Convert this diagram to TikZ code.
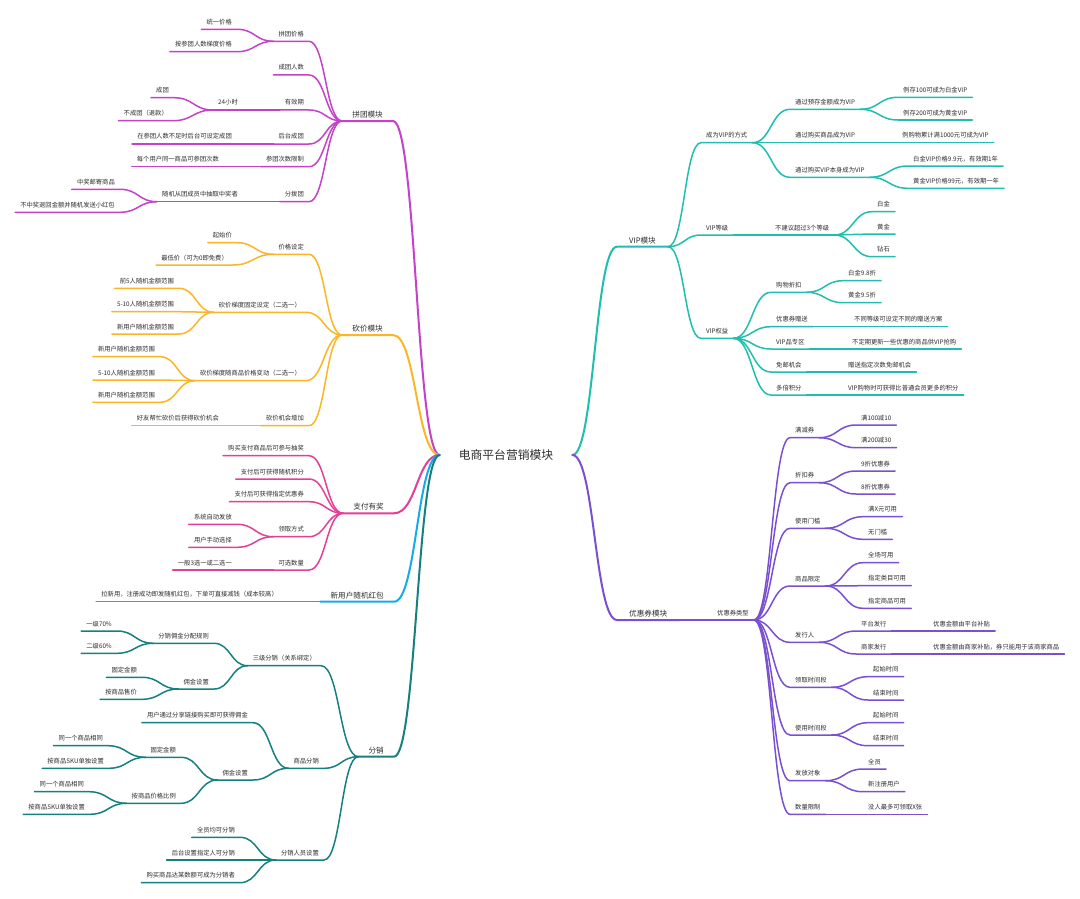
\documentclass[tikz,border=0pt]{standalone}
\usepackage{fontspec}
\setmainfont{Noto Sans CJK SC}
\usetikzlibrary{calc}
\definecolor{colA}{RGB}{195,66,200}
\definecolor{colB}{RGB}{251,182,40}
\definecolor{colC}{RGB}{226,64,150}
\definecolor{colD}{RGB}{22,170,232}
\definecolor{colE}{RGB}{22,128,128}
\definecolor{colF}{RGB}{32,190,175}
\definecolor{colG}{RGB}{122,80,208}
\definecolor{txt}{RGB}{45,45,45}
\newcommand\fsS{\fontsize{6.3pt}{7.5pt}\selectfont}
\newcommand\fsM{\fontsize{7.6pt}{9pt}\selectfont}
\newcommand\fsL{\fontsize{11.8pt}{14pt}\selectfont}
\newcommand\lnk[3]{\draw[#1] let \p1=(#2.south east), \p2=(#3) in (#2.south west) -- (\p1) .. controls ({0.5*\x1+0.5*\x2},\y1) and ({0.5*\x1+0.5*\x2},\y2) .. (\p2);}
\newcommand\rnk[3]{\draw[#1] let \p1=(#2), \p2=(#3.south west) in (\p1) .. controls ({0.5*\x1+0.5*\x2},\y1) and ({0.5*\x1+0.5*\x2},\y2) .. (\p2) -- (#3.south east);}
\tikzset{
  nbase/.style={inner ysep=4.3pt, text depth=0.5pt, text=txt},
  ln/.style={nbase, anchor=south east, inner xsep=5pt, xshift=5pt, font=\fsS},
  rn/.style={nbase, anchor=south west, inner xsep=5pt, xshift=-5pt, font=\fsS},
  lm/.style={nbase, inner ysep=3pt, anchor=south east, inner xsep=10pt, xshift=10pt, font=\fsM},
  rm/.style={nbase, inner ysep=3pt, anchor=south west, inner xsep=12pt, xshift=-12pt, font=\fsM},
  lk/.style={line width=1.5pt, line cap=round, line join=round},
  lkr/.style={line width=2pt, line cap=round, line join=round},
  kA/.style={lk, draw=colA}, kAr/.style={lkr, draw=colA},
  kB/.style={lk, draw=colB}, kBr/.style={lkr, draw=colB},
  kC/.style={lk, draw=colC}, kCr/.style={lkr, draw=colC},
  kD/.style={lk, draw=colD}, kDr/.style={lkr, draw=colD},
  kE/.style={lk, draw=colE}, kEr/.style={lkr, draw=colE},
  kF/.style={lk, draw=colF}, kFr/.style={lkr, draw=colF},
  kG/.style={lk, draw=colG}, kGr/.style={lkr, draw=colG},
}
\begin{document}
\begin{tikzpicture}[x=1pt, y=-1pt]
\useasboundingbox[fill=white] (0,0) rectangle (1080,899);
\node[font=\fsL, text=txt, inner xsep=19pt, inner ysep=2pt] (root) at (506,455) {电商平台营销模块};

% ===== 拼团模块 =====
\node[lm] (A) at (383,121) {拼团模块};
\node[ln] (A1) at (304,41.3) {拼团价格};
\node[ln] (A11) at (232,29.3) {统一价格};
\node[ln] (A12) at (232,51.7) {按参团人数梯度价格};
\node[ln] (A2) at (304,75) {成团人数};
\node[ln] (A3) at (304,110) {有效期};
\node[ln] (A31) at (238,110) {24小时};
\node[ln] (A311) at (169,97.7) {成团};
\node[ln] (A312) at (168,120.7) {不成团（退款）};
\node[ln] (A4) at (304,144) {后台成团};
\node[ln] (A41) at (232,144) {在参团人数不足时后台可设定成团};
\node[ln] (A5) at (304,166.7) {参团次数限制};
\node[ln] (A51) at (219,166.7) {每个用户同一商品可参团次数};
\node[ln] (A6) at (304,201.7) {分拨团};
\node[ln] (A61) at (238,201.7) {随机从团成员中抽取中奖者};
\node[ln] (A611) at (115,189.3) {中奖邮寄商品};
\node[ln] (A612) at (115,212.3) {不中奖退回金额并随机发送小红包};
\lnk{kA}{A11}{A1.south west}
\lnk{kA}{A12}{A1.south west}
\lnk{kA}{A311}{A31.south west}
\lnk{kA}{A312}{A31.south west}
\lnk{kA}{A31}{A3.south west}
\lnk{kA}{A41}{A4.south west}
\lnk{kA}{A51}{A5.south west}
\lnk{kA}{A611}{A61.south west}
\lnk{kA}{A612}{A61.south west}
\lnk{kA}{A61}{A6.south west}
\lnk{kA}{A1}{A.south west}
\lnk{kA}{A2}{A.south west}
\lnk{kA}{A3}{A.south west}
\lnk{kA}{A4}{A.south west}
\lnk{kA}{A5}{A.south west}
\lnk{kA}{A6}{A.south west}
\lnk{kAr}{A}{root.west}

% ===== 砍价模块 =====
\node[lm] (B) at (383,335) {砍价模块};
\node[ln] (B1) at (304,254.3) {价格设定};
\node[ln] (B11) at (232,242.7) {起始价};
\node[ln] (B12) at (228,265) {最低价（可为0即免费）};
\node[ln] (B2) at (301,312.3) {砍价梯度固定设定（二选一）};
\node[ln] (B21) at (174,288.3) {前5人随机金额范围};
\node[ln] (B22) at (174,311.7) {5-10人随机金额范围};
\node[ln] (B23) at (174,334) {新用户随机金额范围};
\node[ln] (B3) at (301,380.7) {砍价梯度随商品价格变动（二选一）};
\node[ln] (B31) at (155,356.7) {新用户随机金额范围};
\node[ln] (B32) at (155,380) {5-10人随机金额范围};
\node[ln] (B33) at (155,402.3) {新用户随机金额范围};
\node[ln] (B4) at (304,425.7) {砍价机会增加};
\node[ln] (B41) at (219,425.7) {好友帮忙砍价后获得砍价机会};
\lnk{kB}{B11}{B1.south west}
\lnk{kB}{B12}{B1.south west}
\lnk{kB}{B21}{B2.south west}
\lnk{kB}{B22}{B2.south west}
\lnk{kB}{B23}{B2.south west}
\lnk{kB}{B31}{B3.south west}
\lnk{kB}{B32}{B3.south west}
\lnk{kB}{B33}{B3.south west}
\lnk{kB}{B41}{B4.south west}
\lnk{kB}{B1}{B.south west}
\lnk{kB}{B2}{B.south west}
\lnk{kB}{B3}{B.south west}
\lnk{kB}{B4}{B.south west}
\lnk{kBr}{B}{root.west}

% ===== 支付有奖 =====
\node[lm] (C) at (384,513.3) {支付有奖};
\node[ln] (C1) at (304,455.7) {购买支付商品后可参与抽奖};
\node[ln] (C2) at (304,479) {支付后可获得随机积分};
\node[ln] (C3) at (304,501.7) {支付后可获得指定优惠券};
\node[ln] (C4) at (304,536.7) {领取方式};
\node[ln] (C41) at (232,524.3) {系统自动发放};
\node[ln] (C42) at (232,547.3) {用户手动选择};
\node[ln] (C5) at (304,570) {可选数量};
\node[ln] (C51) at (232,570) {一般3选一或二选一};
\lnk{kC}{C41}{C4.south west}
\lnk{kC}{C42}{C4.south west}
\lnk{kC}{C51}{C5.south west}
\lnk{kC}{C1}{C.south west}
\lnk{kC}{C2}{C.south west}
\lnk{kC}{C3}{C.south west}
\lnk{kC}{C4}{C.south west}
\lnk{kC}{C5}{C.south west}
\lnk{kCr}{C}{root.west}

% ===== 新用户随机红包 =====
\node[lm] (D) at (384,601.7) {新用户随机红包};
\node[ln] (D1) at (278,601.7) {拉新用，注册成功即发随机红包，下单可直接减钱（成本较高）};
\lnk{kD}{D1}{D.south west}
\lnk{kDr}{D}{root.west}

% ===== 分销 =====
\node[lm] (E) at (384,756.7) {分销};
\node[ln] (E1) at (316,665.7) {三级分销（关系绑定）};
\node[ln] (E11) at (209,643.3) {分销佣金分配规则};
\node[ln] (E111) at (112,631) {一级70\%};
\node[ln] (E112) at (112,653.3) {二级60\%};
\node[ln] (E12) at (209,689) {佣金设置};
\node[ln] (E121) at (137,677.3) {固定金额};
\node[ln] (E122) at (137,699.3) {按商品售价};
\node[ln] (E2) at (319,768.3) {商品分销};
\node[ln] (E21) at (248,722.7) {用户通过分享链接购买即可获得佣金};
\node[ln] (E22) at (248,780) {佣金设置};
\node[ln] (E221) at (176,757.3) {固定金额};
\node[ln] (E2211) at (103,745.7) {同一个商品相同};
\node[ln] (E2212) at (104,768.3) {按商品SKU单独设置};
\node[ln] (E222) at (176,803.3) {按商品价格比例};
\node[ln] (E2221) at (84,791.7) {同一个商品相同};
\node[ln] (E2222) at (85,814.3) {按商品SKU单独设置};
\node[ln] (E3) at (319,860) {分销人员设置};
\node[ln] (E31) at (235,837.3) {全员均可分销};
\node[ln] (E32) at (235,860) {后台设置指定人可分销};
\node[ln] (E33) at (235,882.7) {购买商品达某数额可成为分销者};
\lnk{kE}{E111}{E11.south west}
\lnk{kE}{E112}{E11.south west}
\lnk{kE}{E121}{E12.south west}
\lnk{kE}{E122}{E12.south west}
\lnk{kE}{E11}{E1.south west}
\lnk{kE}{E12}{E1.south west}
\lnk{kE}{E2211}{E221.south west}
\lnk{kE}{E2212}{E221.south west}
\lnk{kE}{E2221}{E222.south west}
\lnk{kE}{E2222}{E222.south west}
\lnk{kE}{E221}{E22.south west}
\lnk{kE}{E222}{E22.south west}
\lnk{kE}{E21}{E2.south west}
\lnk{kE}{E22}{E2.south west}
\lnk{kE}{E31}{E3.south west}
\lnk{kE}{E32}{E3.south west}
\lnk{kE}{E33}{E3.south west}
\lnk{kE}{E1}{E.south west}
\lnk{kE}{E2}{E.south west}
\lnk{kE}{E3}{E.south west}
\lnk{kEr}{E}{root.west}

% ===== VIP模块 =====
\node[rm] (F) at (629,246.7) {VIP模块};
\node[rn] (F1) at (706,142.7) {成为VIP的方式};
\node[rn] (F11) at (795,109.3) {通过预存金额成为VIP};
\node[rn] (F111) at (903,97.3) {例存100可成为白金VIP};
\node[rn] (F112) at (903,120) {例存200可成为黄金VIP};
\node[rn] (F12) at (795,142.7) {通过购买商品成为VIP};
\node[rn] (F121) at (902,142.7) {例购物累计满1000元可成为VIP};
\node[rn] (F13) at (795,177.3) {通过购买VIP本身成为VIP};
\node[rn] (F131) at (913,166) {白金VIP价格9.9元，有效期1年};
\node[rn] (F132) at (913,188.3) {黄金VIP价格99元，有效期一年};
\node[rn] (F2) at (706,235) {VIP等级};
\node[rn] (F21) at (775,235) {不建议超过3个等级};
\node[rn] (F211) at (877,211.7) {白金};
\node[rn] (F212) at (877,234) {黄金};
\node[rn] (F213) at (877,256.7) {钻石};
\node[rn] (F3) at (706,338.3) {VIP权益};
\node[rn] (F31) at (776,292.3) {购物折扣};
\node[rn] (F311) at (848,280.7) {白金9.8折};
\node[rn] (F312) at (848,302.7) {黄金9.5折};
\node[rn] (F32) at (776,326.7) {优惠券赠送};
\node[rn] (F321) at (854,326.7) {不同等级可设定不同的赠送方案};
\node[rn] (F33) at (776,349) {VIP品专区};
\node[rn] (F331) at (852,349) {不定期更新一些优惠的商品供VIP抢购};
\node[rn] (F34) at (776,372) {免邮机会};
\node[rn] (F341) at (848,372) {赠送指定次数免邮机会};
\node[rn] (F35) at (776,395) {多倍积分};
\node[rn] (F351) at (848,395) {VIP购物时可获得比普通会员更多的积分};
\rnk{kFr}{root.east}{F}
\rnk{kF}{F.south east}{F1}
\rnk{kF}{F.south east}{F2}
\rnk{kF}{F.south east}{F3}
\rnk{kF}{F1.south east}{F11}
\rnk{kF}{F1.south east}{F12}
\rnk{kF}{F1.south east}{F13}
\rnk{kF}{F11.south east}{F111}
\rnk{kF}{F11.south east}{F112}
\rnk{kF}{F12.south east}{F121}
\rnk{kF}{F13.south east}{F131}
\rnk{kF}{F13.south east}{F132}
\rnk{kF}{F2.south east}{F21}
\rnk{kF}{F21.south east}{F211}
\rnk{kF}{F21.south east}{F212}
\rnk{kF}{F21.south east}{F213}
\rnk{kF}{F3.south east}{F31}
\rnk{kF}{F3.south east}{F32}
\rnk{kF}{F3.south east}{F33}
\rnk{kF}{F3.south east}{F34}
\rnk{kF}{F3.south east}{F35}
\rnk{kF}{F31.south east}{F311}
\rnk{kF}{F31.south east}{F312}
\rnk{kF}{F32.south east}{F321}
\rnk{kF}{F33.south east}{F331}
\rnk{kF}{F34.south east}{F341}
\rnk{kF}{F35.south east}{F351}

% ===== 优惠券模块 =====
\node[rm] (G) at (629,620) {优惠券模块};
\node[rn] (G1) at (717,620) {优惠券类型};
\node[rn] (G11) at (795,437.7) {满减券};
\node[rn] (G111) at (861,425) {满100减10};
\node[rn] (G112) at (861,447.7) {满200减30};
\node[rn] (G12) at (795,482.7) {折扣券};
\node[rn] (G121) at (861,471) {9折优惠券};
\node[rn] (G122) at (861,494) {8折优惠券};
\node[rn] (G13) at (795,528.3) {使用门槛};
\node[rn] (G131) at (868,516.7) {满X元可用};
\node[rn] (G132) at (868,539.3) {无门槛};
\node[rn] (G14) at (795,586) {商品限定};
\node[rn] (G141) at (868,562.7) {全场可用};
\node[rn] (G142) at (868,585.7) {指定类目可用};
\node[rn] (G143) at (868,608.3) {指定商品可用};
\node[rn] (G15) at (795,642.3) {发行人};
\node[rn] (G151) at (861,631) {平台发行};
\node[rn] (G1511) at (933,631) {优惠金额由平台补贴};
\node[rn] (G152) at (861,654) {商家发行};
\node[rn] (G1521) at (933,654) {优惠金额由商家补贴，券只能用于该商家商品};
\node[rn] (G16) at (795,687.3) {领取时间段};
\node[rn] (G161) at (873,676.7) {起始时间};
\node[rn] (G162) at (873,700) {结束时间};
\node[rn] (G17) at (795,735) {使用时间段};
\node[rn] (G171) at (873,722.7) {起始时间};
\node[rn] (G172) at (873,745.7) {结束时间};
\node[rn] (G18) at (795,780.7) {发放对象};
\node[rn] (G181) at (868,769) {全员};
\node[rn] (G182) at (868,791.7) {新注册用户};
\node[rn] (G19) at (795,814.3) {数量限制};
\node[rn] (G191) at (868,814.3) {没人最多可领取X张};
\rnk{kGr}{root.east}{G}
\rnk{kG}{G.south east}{G1}
\rnk{kG}{G1.south east}{G11}
\rnk{kG}{G1.south east}{G12}
\rnk{kG}{G1.south east}{G13}
\rnk{kG}{G1.south east}{G14}
\rnk{kG}{G1.south east}{G15}
\rnk{kG}{G1.south east}{G16}
\rnk{kG}{G1.south east}{G17}
\rnk{kG}{G1.south east}{G18}
\rnk{kG}{G1.south east}{G19}
\rnk{kG}{G11.south east}{G111}
\rnk{kG}{G11.south east}{G112}
\rnk{kG}{G12.south east}{G121}
\rnk{kG}{G12.south east}{G122}
\rnk{kG}{G13.south east}{G131}
\rnk{kG}{G13.south east}{G132}
\rnk{kG}{G14.south east}{G141}
\rnk{kG}{G14.south east}{G142}
\rnk{kG}{G14.south east}{G143}
\rnk{kG}{G15.south east}{G151}
\rnk{kG}{G15.south east}{G152}
\rnk{kG}{G151.south east}{G1511}
\rnk{kG}{G152.south east}{G1521}
\rnk{kG}{G16.south east}{G161}
\rnk{kG}{G16.south east}{G162}
\rnk{kG}{G17.south east}{G171}
\rnk{kG}{G17.south east}{G172}
\rnk{kG}{G18.south east}{G181}
\rnk{kG}{G18.south east}{G182}
\rnk{kG}{G19.south east}{G191}
\end{tikzpicture}
\end{document}
